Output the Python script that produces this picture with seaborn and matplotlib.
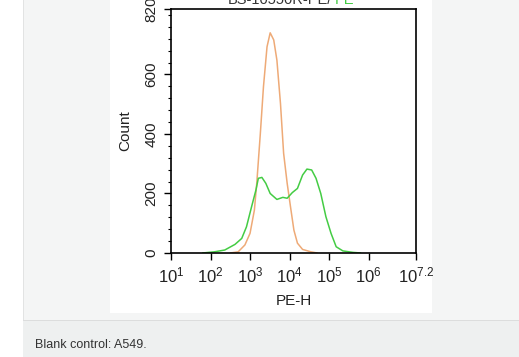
import numpy as np
import pandas as pd
import matplotlib
matplotlib.use('Agg')
import matplotlib.pyplot as plt
import matplotlib.ticker as mticker
from matplotlib.patches import Rectangle
import seaborn as sns

# Curvas (expoente log10 de PE-H, contagem)
verde_log = [1.80, 2.10, 2.36, 2.62, 2.79, 2.91, 3.04, 3.15, 3.21, 3.30, 3.40, 3.51,
             3.68, 3.83, 3.94, 4.07, 4.20, 4.33, 4.44, 4.56, 4.67, 4.79, 4.92, 5.05,
             5.18, 5.35, 5.61, 5.80]
verde_count = [0, 4, 10, 29, 49, 88, 156, 212, 251, 254, 234, 200,
               180, 187, 184, 203, 217, 262, 282, 279, 251, 200, 122, 66,
               21, 7, 2, 0]

laranja_log = [2.50, 2.70, 2.87, 3.00, 3.11, 3.17, 3.26, 3.34, 3.43, 3.51, 3.60, 3.68,
               3.77, 3.85, 3.94, 4.03, 4.11, 4.20, 4.33, 4.54, 4.70]
laranja_count = [0, 4, 27, 66, 144, 234, 400, 559, 693, 740, 716, 648,
                 503, 335, 234, 150, 77, 33, 12, 4, 0]

y_ticks = [0, 200, 400, 600, 820]
x_expoentes = [1, 2, 3, 4, 5, 6, 7.2]
x_labels = ['$10^{1}$', '$10^{2}$', '$10^{3}$', '$10^{4}$', '$10^{5}$', '$10^{6}$', '$10^{7.2}$']

df = pd.concat([
    pd.DataFrame({'PE': 10 ** np.array(laranja_log), 'Count': laranja_count, 'amostra': 'blank'}),
    pd.DataFrame({'PE': 10 ** np.array(verde_log), 'Count': verde_count, 'amostra': 'anticorpo'}),
])

sns.set_style('ticks')
plt.rcParams['font.family'] = ['Liberation Sans', 'DejaVu Sans']
plt.rcParams['mathtext.default'] = 'regular'

fig = plt.figure(figsize=(5.19, 3.57), dpi=100, facecolor='#f4f5f5')


def caixa(x, y, w, h, cor):
    # retangulo em pixels da figura (origem no topo esquerdo)
    fig.patches.append(Rectangle((x / 519, 1 - (y + h) / 357), w / 519, h / 357,
                                 transform=fig.transFigure, facecolor=cor, linewidth=0, zorder=0))


# fundo da pagina
caixa(0, 0, 23, 357, 'white')
caixa(23, 0, 1, 321, '#e2e3e3')
caixa(23, 320, 496, 1.2, '#dcdddd')
caixa(23, 321, 496, 36, '#eef0f0')
caixa(110, 0, 322, 313, 'white')

ax = fig.add_axes([171 / 519, 1 - 253 / 357, 245 / 519, 244 / 357])
ax.set_zorder(2)
ax.set_facecolor('white')
sns.lineplot(data=df, x='PE', y='Count', hue='amostra', palette=['#eeaa77', '#44cc44'],
             linewidth=1.1, legend=False, ax=ax)

ax.set_xscale('log')
ax.set_xlim(10 ** 1, 10 ** 7.2)
ax.set_ylim(0, 820)
ax.set_xticks([10 ** e for e in x_expoentes])
ax.set_xticklabels(x_labels)
ax.xaxis.set_minor_locator(mticker.LogLocator(base=10, subs=np.arange(2, 10)))
ax.xaxis.set_minor_formatter(mticker.NullFormatter())
ax.set_yticks(y_ticks)
ax.set_yticklabels([str(v) for v in y_ticks], rotation=90, va='center')
ax.yaxis.set_minor_locator(mticker.MultipleLocator(40))

for s in ax.spines.values():
    s.set_color('black')
    s.set_linewidth(1.2)
ax.tick_params(axis='both', which='major', length=5, width=1, color='black', labelcolor='#222222')
ax.tick_params(axis='x', which='major', pad=4, labelsize=12)
ax.tick_params(axis='y', which='major', pad=4, labelsize=11)
ax.tick_params(axis='both', which='minor', length=2.5, width=0.8, color='black')

ax.set_xlabel('PE-H', fontsize=11, color='#222222', labelpad=6)
ax.set_ylabel('Count', fontsize=11, color='#222222', labelpad=9)

# titulo cortado no topo
fig.text(228 / 519, 1.0, 'BS-10550R-PE/', fontsize=10.5, color='#333333', ha='left', va='center', zorder=3)
fig.text(335 / 519, 1.0, 'PE', fontsize=10.5, color='#44cc44', ha='left', va='center', zorder=3)

fig.text(35 / 519, 12 / 357, 'Blank control: A549.', fontsize=9, color='#333333', ha='left', va='center', zorder=3)

plt.savefig('out.png', dpi=100, facecolor=fig.get_facecolor())
